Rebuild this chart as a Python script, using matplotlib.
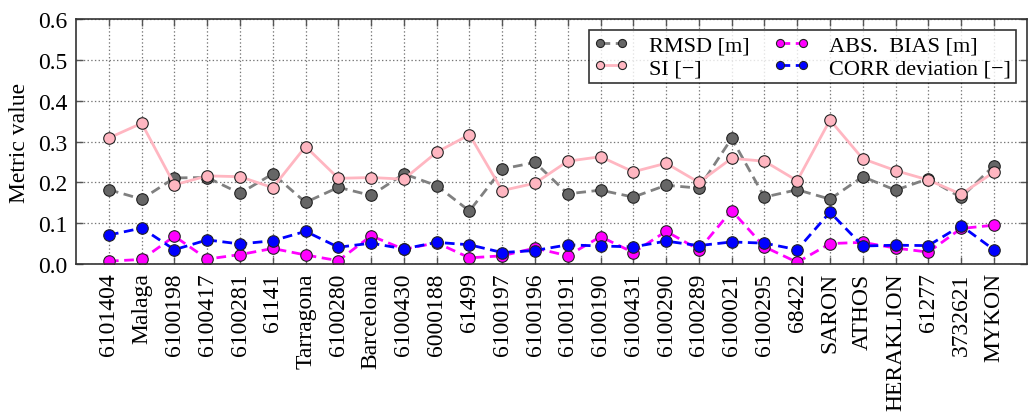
"""Per-station error metrics of the wave model."""

import matplotlib
import matplotlib.pyplot as plt
import numpy as np

matplotlib.use("Agg")

stations = [
    "6101404", "Malaga", "6100198", "6100417", "6100281", "61141",
    "Tarragona", "6100280", "Barcelona", "6100430", "6000188", "61499",
    "6100197", "6100196", "6100191", "6100190", "6100431", "6100290",
    "6100289", "6100021", "6100295", "68422", "SARON", "ATHOS",
    "HERAKLION", "61277", "3732621", "MYKON",
]

rmsd = [
    0.182, 0.159, 0.211, 0.212, 0.173, 0.221, 0.151, 0.188, 0.168, 0.221,
    0.192, 0.130, 0.233, 0.249, 0.172, 0.181, 0.164, 0.193, 0.186, 0.308,
    0.164, 0.182, 0.159, 0.214, 0.181, 0.209, 0.163, 0.241,
]
si = [
    0.309, 0.345, 0.194, 0.216, 0.214, 0.187, 0.288, 0.210, 0.212, 0.208,
    0.274, 0.317, 0.180, 0.198, 0.252, 0.263, 0.226, 0.247, 0.200, 0.259,
    0.252, 0.204, 0.353, 0.258, 0.229, 0.206, 0.171, 0.225,
]
abs_bias = [
    0.007, 0.011, 0.068, 0.012, 0.023, 0.038, 0.022, 0.008, 0.069, 0.036,
    0.052, 0.015, 0.020, 0.039, 0.020, 0.067, 0.028, 0.080, 0.035, 0.131,
    0.042, 0.004, 0.050, 0.053, 0.039, 0.029, 0.087, 0.095,
]
corr_dev = [
    0.071, 0.088, 0.035, 0.059, 0.049, 0.057, 0.080, 0.041, 0.051, 0.037,
    0.053, 0.047, 0.028, 0.033, 0.047, 0.044, 0.042, 0.056, 0.045, 0.054,
    0.051, 0.035, 0.127, 0.044, 0.046, 0.045, 0.094, 0.035,
]

plt.rcParams["font.family"] = ["Liberation Serif", "DejaVu Serif"]
plt.rcParams["font.size"] = 17
plt.rcParams["lines.scale_dashes"] = False

fig = plt.figure(figsize=(10.29, 4.14), dpi=100)
ax = fig.add_axes([0.074, 0.360, 0.9237, 0.591])

x = np.arange(len(stations))
mk = dict(marker="o", markersize=8.3, markeredgecolor="#222222", markeredgewidth=0.8)
dash = (7, 4)

ax.plot(x, rmsd, color="#808080", linestyle="--", dashes=dash, linewidth=2,
        markerfacecolor="#666666", label="RMSD [m]", **mk)
ax.plot(x, si, color="#ffb6c1", linestyle="-", linewidth=2,
        markerfacecolor="#ffb6c1", label="SI [\u2212]", **mk)
ax.plot(x, abs_bias, color="#ff00ff", linestyle="--", dashes=dash, linewidth=2,
        markerfacecolor="#ff00ff", label="ABS.  BIAS [m]", **mk)
ax.plot(x, corr_dev, color="#0000ff", linestyle="--", dashes=dash, linewidth=2,
        markerfacecolor="#0000ff", label="CORR deviation [\u2212]", **mk)

ax.set_xlim(-1, len(stations))
ax.set_ylim(0, 0.6)
ax.set_xticks(x)
ax.set_xticklabels(stations, rotation=90)
ax.set_yticks(np.arange(0, 0.61, 0.1))
ax.yaxis.set_major_formatter(matplotlib.ticker.FormatStrFormatter("%.1f"))
ax.set_ylabel("Metric value", fontsize=17, labelpad=6)

ax.tick_params(direction="in", top=True, right=True, length=5, width=1, pad=6,
               color="#555555")
ax.grid(True, color="#777777", linestyle=":", linewidth=0.9)
for s in ax.spines.values():
    s.set_linewidth(1.2)
    s.set_color("#333333")

leg = ax.legend(loc="upper right", ncol=2, numpoints=2, fancybox=False,
                fontsize=16, markerscale=0.7, handlelength=1.6,
                columnspacing=1.1, borderpad=0.2, labelspacing=0.1,
                handletextpad=0.9)
leg.get_frame().set_edgecolor("black")
leg.get_frame().set_linewidth(1.2)

fig.savefig("out.png", dpi=100)
plt.close(fig)
